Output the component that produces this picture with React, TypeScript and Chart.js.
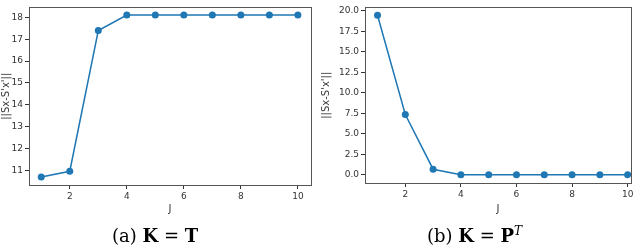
import React, { useEffect, useRef } from "react";
import { Chart, registerables } from "chart.js";

Chart.register(...registerables);

const jValues = [1, 2, 3, 4, 5, 6, 7, 8, 9, 10];
const seriesA = [10.7, 10.96, 17.4, 18.11, 18.11, 18.11, 18.11, 18.11, 18.11, 18.11];
const seriesB = [19.45, 7.35, 0.68, 0.02, 0.02, 0.02, 0.02, 0.02, 0.02, 0.02];
const xTicks = [2, 4, 6, 8, 10];
const yTicksA = [11, 12, 13, 14, 15, 16, 17, 18];
const yTicksB = [0, 2.5, 5, 7.5, 10, 12.5, 15, 17.5, 20];
const yTitle = "||Sx-S'x'||";
const xTitle = "J";

const BLUE = "#1f77b4";

const framePlugin = {
  id: "frame",
  afterDraw(chart: any) {
    const { ctx, chartArea } = chart;
    ctx.save();
    ctx.strokeStyle = "#555";
    ctx.lineWidth = 1;
    ctx.strokeRect(
      Math.round(chartArea.left) + 0.5,
      Math.round(chartArea.top) + 0.5,
      Math.round(chartArea.right - chartArea.left),
      Math.round(chartArea.bottom - chartArea.top)
    );
    ctx.restore();
  },
};

type Cfg = {
  values: number[];
  yTicks: number[];
  yMin: number;
  yMax: number;
  xMin: number;
  xMax: number;
  yWidth: number;
  padTop: number;
  padRight: number;
  padBottom: number;
  xHeight: number;
  decimals: number;
};

function Panel({ cfg }: { cfg: Cfg }) {
  const ref = useRef<HTMLCanvasElement>(null);
  useEffect(() => {
    const tickFont = { family: "DejaVu Sans", size: 9 };
    const chart = new Chart(ref.current!, {
      type: "line",
      data: {
        datasets: [
          {
            data: jValues.map((x, i) => ({ x, y: cfg.values[i] })),
            borderColor: BLUE,
            backgroundColor: BLUE,
            borderWidth: 1.5,
            pointRadius: 3.5,
            pointBorderWidth: 0,
            pointBackgroundColor: BLUE,
            tension: 0,
          },
        ],
      },
      options: {
        animation: false,
        responsive: false,
        layout: {
          padding: { top: cfg.padTop, right: cfg.padRight, bottom: cfg.padBottom, left: 0 },
        },
        plugins: { legend: { display: false }, tooltip: { enabled: false } },
        scales: {
          x: {
            type: "linear",
            min: cfg.xMin,
            max: cfg.xMax,
            afterBuildTicks: (s: any) => {
              s.ticks = xTicks.map((v) => ({ value: v }));
            },
            afterFit: (s: any) => {
              s.height = cfg.xHeight;
            },
            grid: {
              drawOnChartArea: false,
              drawTicks: true,
              tickLength: 4,
              color: "#333",
            },
            border: { display: false },
            ticks: { font: tickFont, color: "#333", padding: 2, maxRotation: 0 },
            title: {
              display: true,
              text: xTitle,
              font: { family: "DejaVu Sans", size: 10 },
              color: "#333",
              padding: { top: 1, bottom: 0 },
            },
          },
          y: {
            type: "linear",
            min: cfg.yMin,
            max: cfg.yMax,
            afterBuildTicks: (s: any) => {
              s.ticks = cfg.yTicks.map((v) => ({ value: v }));
            },
            afterFit: (s: any) => {
              s.width = cfg.yWidth;
            },
            grid: {
              drawOnChartArea: false,
              drawTicks: true,
              tickLength: 4,
              color: "#333",
            },
            border: { display: false },
            ticks: {
              font: tickFont,
              color: "#333",
              padding: 2,
              callback: (v: any) => Number(v).toFixed(cfg.decimals),
            },
            title: {
              display: true,
              text: yTitle,
              font: { family: "DejaVu Sans", size: 10 },
              color: "#333",
              padding: { top: 0, bottom: 1 },
            },
          },
        },
      },
      plugins: [framePlugin],
    });
    return () => chart.destroy();
  }, []);
  return <canvas ref={ref} width={320} height={248} style={{ position: "absolute", left: 0, top: 0 }} />;
}

const cfgA: Cfg = {
  values: seriesA,
  yTicks: yTicksA,
  yMin: 10.33,
  yMax: 18.46,
  xMin: 0.57,
  xMax: 10.46,
  yWidth: 29,
  padTop: 2,
  padRight: 9,
  padBottom: 33,
  xHeight: 30,
  decimals: 0,
};

const cfgB: Cfg = {
  values: seriesB,
  yTicks: yTicksB,
  yMin: -1.0,
  yMax: 20.4,
  xMin: 0.55,
  xMax: 10.12,
  yWidth: 45,
  padTop: 4,
  padRight: 9,
  padBottom: 33,
  xHeight: 32,
  decimals: 1,
};

const capStyle: React.CSSProperties = {
  position: "absolute",
  top: 225,
  fontFamily: "'DejaVu Serif', 'Liberation Serif', serif",
  fontSize: 18,
  lineHeight: "22px",
  color: "#000",
  whiteSpace: "nowrap",
};

export default function App() {
  useEffect(() => {
    document.body.style.margin = "0";
  }, []);
  return (
    <div style={{ position: "fixed", left: 0, top: 0, width: 640, height: 248, background: "#fff" }}>
      <div style={{ position: "absolute", left: 0, top: 0, width: 320, height: 248 }}>
        <Panel cfg={cfgA} />
      </div>
      <div style={{ position: "absolute", left: 320, top: 0, width: 320, height: 248 }}>
        <Panel cfg={cfgB} />
      </div>
      <div style={{ ...capStyle, left: 112 }}>
        (a) <b>K</b> = <b>T</b>
      </div>
      <div style={{ ...capStyle, left: 427 }}>
        (b) <b>K</b> = <b>P</b>
        <sup style={{ fontSize: 12, fontStyle: "italic", lineHeight: 0 }}>T</sup>
      </div>
    </div>
  );
}
